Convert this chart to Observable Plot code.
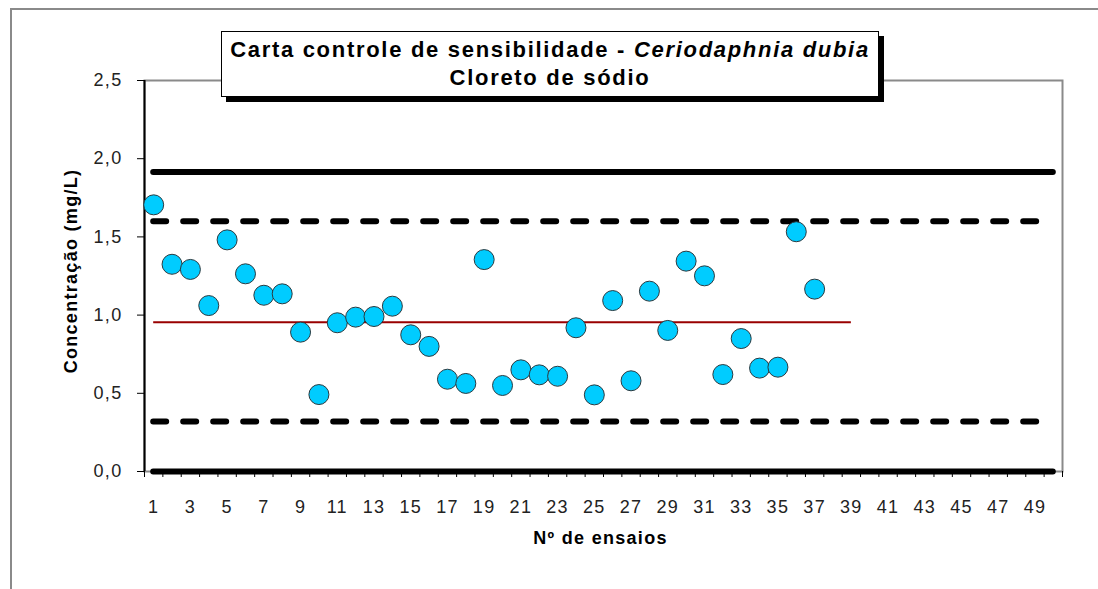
<!DOCTYPE html>
<html>
<head>
<meta charset="utf-8">
<script src="https://cdn.jsdelivr.net/npm/d3@7"></script>
<script src="https://cdn.jsdelivr.net/npm/@observablehq/plot@0.6"></script>
<style>
  html, body { margin: 0; padding: 0; background: #fff; overflow: hidden; }
  #wrap { position: relative; width: 1098px; height: 589px; overflow: hidden; }
  #outer { position: absolute; left: 10px; top: 8px; width: 1200px; height: 700px;
           border-left: 2px solid #8a8a8a; border-top: 2px solid #8a8a8a; box-sizing: border-box; }
  #title { position: absolute; left: 221px; top: 31px; width: 658px; height: 66px; box-sizing: border-box;
           border: 1px solid #000; background: #fff; box-shadow: 5px 5px 0 #000;
           font-family: "Liberation Sans", Arial, sans-serif; font-weight: bold; font-size: 22px;
           line-height: 28px; text-align: center; letter-spacing: 1.7px; padding-top: 4px; color: #000; z-index: 2; }
  #chart { position: absolute; left: 0; top: 0; }
</style>
</head>
<body>
<div id="wrap">
  <div id="outer"></div>
  <div id="chart"></div>
  <div id="title">Carta controle de sensibilidade - <i>Ceriodaphnia dubia</i><br>Cloreto de sódio</div>
</div>
<script>
// Data
const trials = [1,2,3,4,5,6,7,8,9,10,11,12,13,14,15,16,17,18,19,20,21,22,23,24,25,26,27,28,29,30,31,32,33,34,35,36,37];
const concentrations = [1.705,1.325,1.292,1.061,1.481,1.264,1.127,1.136,0.891,0.492,0.951,0.987,0.991,1.057,0.874,0.800,
  0.590,0.563,1.355,0.550,0.650,0.618,0.609,0.919,0.490,1.093,0.580,1.153,0.902,1.345,1.251,0.620,0.850,0.661,0.667,1.533,1.166];
const upperLimit = 1.915;
const upperWarning = 1.60;
const lowerWarning = 0.32;
const lowerLimit = 0.0;
const meanValue = 0.955;
const meanEnd = 39;
const xFirst = 1, xLast = 50;
const yTicks = [0, 0.5, 1.0, 1.5, 2.0, 2.5];
const xTickLabels = [1,3,5,7,9,11,13,15,17,19,21,23,25,27,29,31,33,35,37,39,41,43,45,47,49];
const xBoundaries = d3.range(0.5, 51, 1);
const yTitle = "Concentração (mg/L)";
const xTitle = "Nº de ensaios";

const points = trials.map((t, i) => ({trial: t, value: concentrations[i]}));

const chart = Plot.plot({
  width: 1098,
  height: 589,
  marginLeft: 144,
  marginRight: 36,
  marginTop: 80,
  marginBottom: 118,
  style: {fontFamily: "Liberation Sans, Arial, sans-serif", fontSize: "18px", color: "#222", background: "transparent", letterSpacing: "1.3px"},
  x: {domain: [0.5, 50.5]},
  y: {domain: [0, 2.5]},
  marks: [
    Plot.frame({stroke: "#8a8a8a", strokeWidth: 2}),
    Plot.axisY({ticks: yTicks, tickFormat: d => d.toFixed(1).replace(".", ","), tickSize: 7, tickPadding: 15, label: null, stroke: "#000"}),
    Plot.axisX({ticks: xBoundaries, tickFormat: () => "", tickSize: 6, label: null, stroke: "#000"}),
    Plot.axisX({ticks: xTickLabels, tickSize: 0, tickPadding: 29, label: null}),
    Plot.ruleX([0.5], {stroke: "#000", strokeWidth: 2}),
    Plot.ruleY([upperLimit], {x1: xFirst, x2: xLast, stroke: "#000", strokeWidth: 6, strokeLinecap: "round"}),
    Plot.ruleY([upperWarning, lowerWarning], {x1: xFirst, x2: xLast, stroke: "#000", strokeWidth: 6, strokeLinecap: "round", strokeDasharray: "13,17"}),
    Plot.ruleY([lowerLimit], {x1: xFirst, x2: xLast, stroke: "#000", strokeWidth: 6, strokeLinecap: "round"}),
    Plot.ruleY([meanValue], {x1: xFirst, x2: meanEnd, stroke: "#990000", strokeWidth: 2}),
    Plot.dot(points, {x: "trial", y: "value", r: 10, fill: "#00CCFF", stroke: "#2a3a40", strokeWidth: 1}),
    Plot.text([yTitle], {frameAnchor: "left", textAnchor: "middle", text: d => d, rotate: -90, dx: -73, dy: -5, fontWeight: "bold", fill: "#000"}),
    Plot.text([xTitle], {frameAnchor: "bottom", text: d => d, dy: 72, dx: -3, fontWeight: "bold", fill: "#000"})
  ]
});
document.getElementById("chart").appendChild(chart);
</script>
</body>
</html>
